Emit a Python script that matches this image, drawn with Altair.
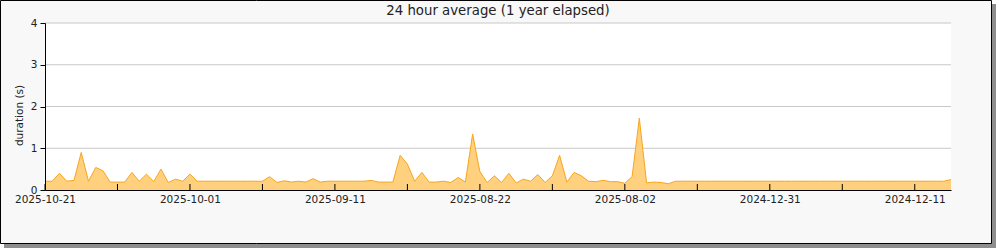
import altair as alt
import pandas as pd

# ---- data ----
days = list(range(126))
values = (
    [0.21, 0.21, 0.40, 0.21, 0.23, 0.90, 0.21, 0.54, 0.46, 0.19,
     0.19, 0.19, 0.42, 0.21, 0.38, 0.20, 0.50, 0.18, 0.26, 0.21,
     0.38]
    + [0.21] * 10
    + [0.32, 0.18, 0.22, 0.19, 0.21, 0.19, 0.27, 0.19]
    + [0.21] * 6
    + [0.23, 0.19, 0.19, 0.19, 0.83, 0.62, 0.21, 0.42, 0.19, 0.19,
       0.21, 0.18, 0.30, 0.19, 1.34, 0.44, 0.18, 0.34, 0.18, 0.40,
       0.17, 0.26, 0.21, 0.37, 0.18, 0.34, 0.83, 0.19, 0.42, 0.34,
       0.21, 0.20, 0.23, 0.20, 0.20, 0.16, 0.32, 1.72, 0.17, 0.19,
       0.18, 0.15]
    + [0.21] * 38
    + [0.25]
)
x_tick_days = [0, 10, 20, 30, 40, 50, 60, 70, 80, 90, 100, 110, 120]
x_label_days = [0, 20, 40, 60, 80, 100, 120]
x_labels = ["2025-10-21", "2025-10-01", "2025-09-11", "2025-08-22",
            "2025-08-02", "2024-12-31", "2024-12-11"]
y_ticks = [0, 0.5, 1, 1.5, 2, 2.5, 3, 3.5, 4]
y_grid = [1, 2, 3, 4]
title_text = "24 hour average (1 year elapsed)"
y_title = "duration (s)"

df = pd.DataFrame({"day": days, "value": values})

W, H = 906, 167
FONT = "DejaVu Sans"
TXT = "#222222"

x_scale = alt.Scale(domain=[0, 125], nice=False, zero=False)
y_scale = alt.Scale(domain=[0, 4], nice=False)

x_expr = "".join(f"datum.value == {d} ? '{l}' : " for d, l in zip(x_label_days, x_labels)) + "''"

one = pd.DataFrame({"k": [0]})

shadow = alt.Chart(one).mark_rect(color="#8e8e8e").encode(
    x=alt.value(-41), x2=alt.value(951), y=alt.value(-19), y2=alt.value(225)
)
frame = alt.Chart(one).mark_rect(fill="#f8f8f8", stroke="black", strokeWidth=1).encode(
    x=alt.value(-44.5), x2=alt.value(946.5), y=alt.value(-22.5), y2=alt.value(220.5)
)
plot_bg = alt.Chart(one).mark_rect(fill="white").encode(
    x=alt.value(0), x2=alt.value(W), y=alt.value(0), y2=alt.value(H)
)
title = alt.Chart(pd.DataFrame({"t": [title_text]})).mark_text(
    font=FONT, fontSize=13.3, color=TXT, align="center", baseline="alphabetic"
).encode(text="t:N", x=alt.value(W / 2), y=alt.value(-8))

grid = alt.Chart(pd.DataFrame({"value": y_grid})).mark_rule(color="#c8c8c8", strokeWidth=1).encode(
    y=alt.Y("value:Q", scale=y_scale), x=alt.value(0), x2=alt.value(W)
)
area = alt.Chart(df).mark_area(
    color="#ffd17f", opacity=1, interpolate="linear",
    line={"color": "#f7a51c", "strokeWidth": 1},
).encode(
    x=alt.X("day:Q", scale=x_scale, axis=alt.Axis(
        values=x_label_days, labelExpr=x_expr, ticks=False, grid=False, title=" ",
        domainColor="black", labelFontSize=10.5, labelFont=FONT, labelColor=TXT,
        labelPadding=4, labelFlush=False, labelOverlap=False, zindex=1)),
    y=alt.Y("value:Q", scale=y_scale, axis=alt.Axis(
        values=y_ticks, labelExpr="datum.value % 1 == 0 ? datum.label : ''",
        grid=False, tickSize=5, tickColor="black", domainColor="black",
        labelFontSize=10.5, labelFont=FONT, labelColor=TXT, labelPadding=3,
        labelFlush=False, labelOverlap=False,
        title=y_title, titleFont=FONT, titleFontSize=10.5,
        titleFontWeight="normal", titleColor=TXT, titleX=-26, titleY=92,
        titleBaseline="middle", titleAlign="center", zindex=1)),
)
xticks = alt.Chart(pd.DataFrame({"day": x_tick_days})).mark_rule(color="black", strokeWidth=1).encode(
    x=alt.X("day:Q", scale=x_scale), y=alt.value(H - 6), y2=alt.value(H)
)

chart = alt.layer(shadow, frame, plot_bg, title, grid, area, xticks).properties(
    width=W, height=H,
    padding={"left": 45, "top": 23, "right": 49, "bottom": 60},
    autosize=alt.AutoSizeParams(type="none"),
).configure(background="white").configure_view(stroke=None)

chart.save("out.html", embed_options={"renderer": "svg", "actions": False})
